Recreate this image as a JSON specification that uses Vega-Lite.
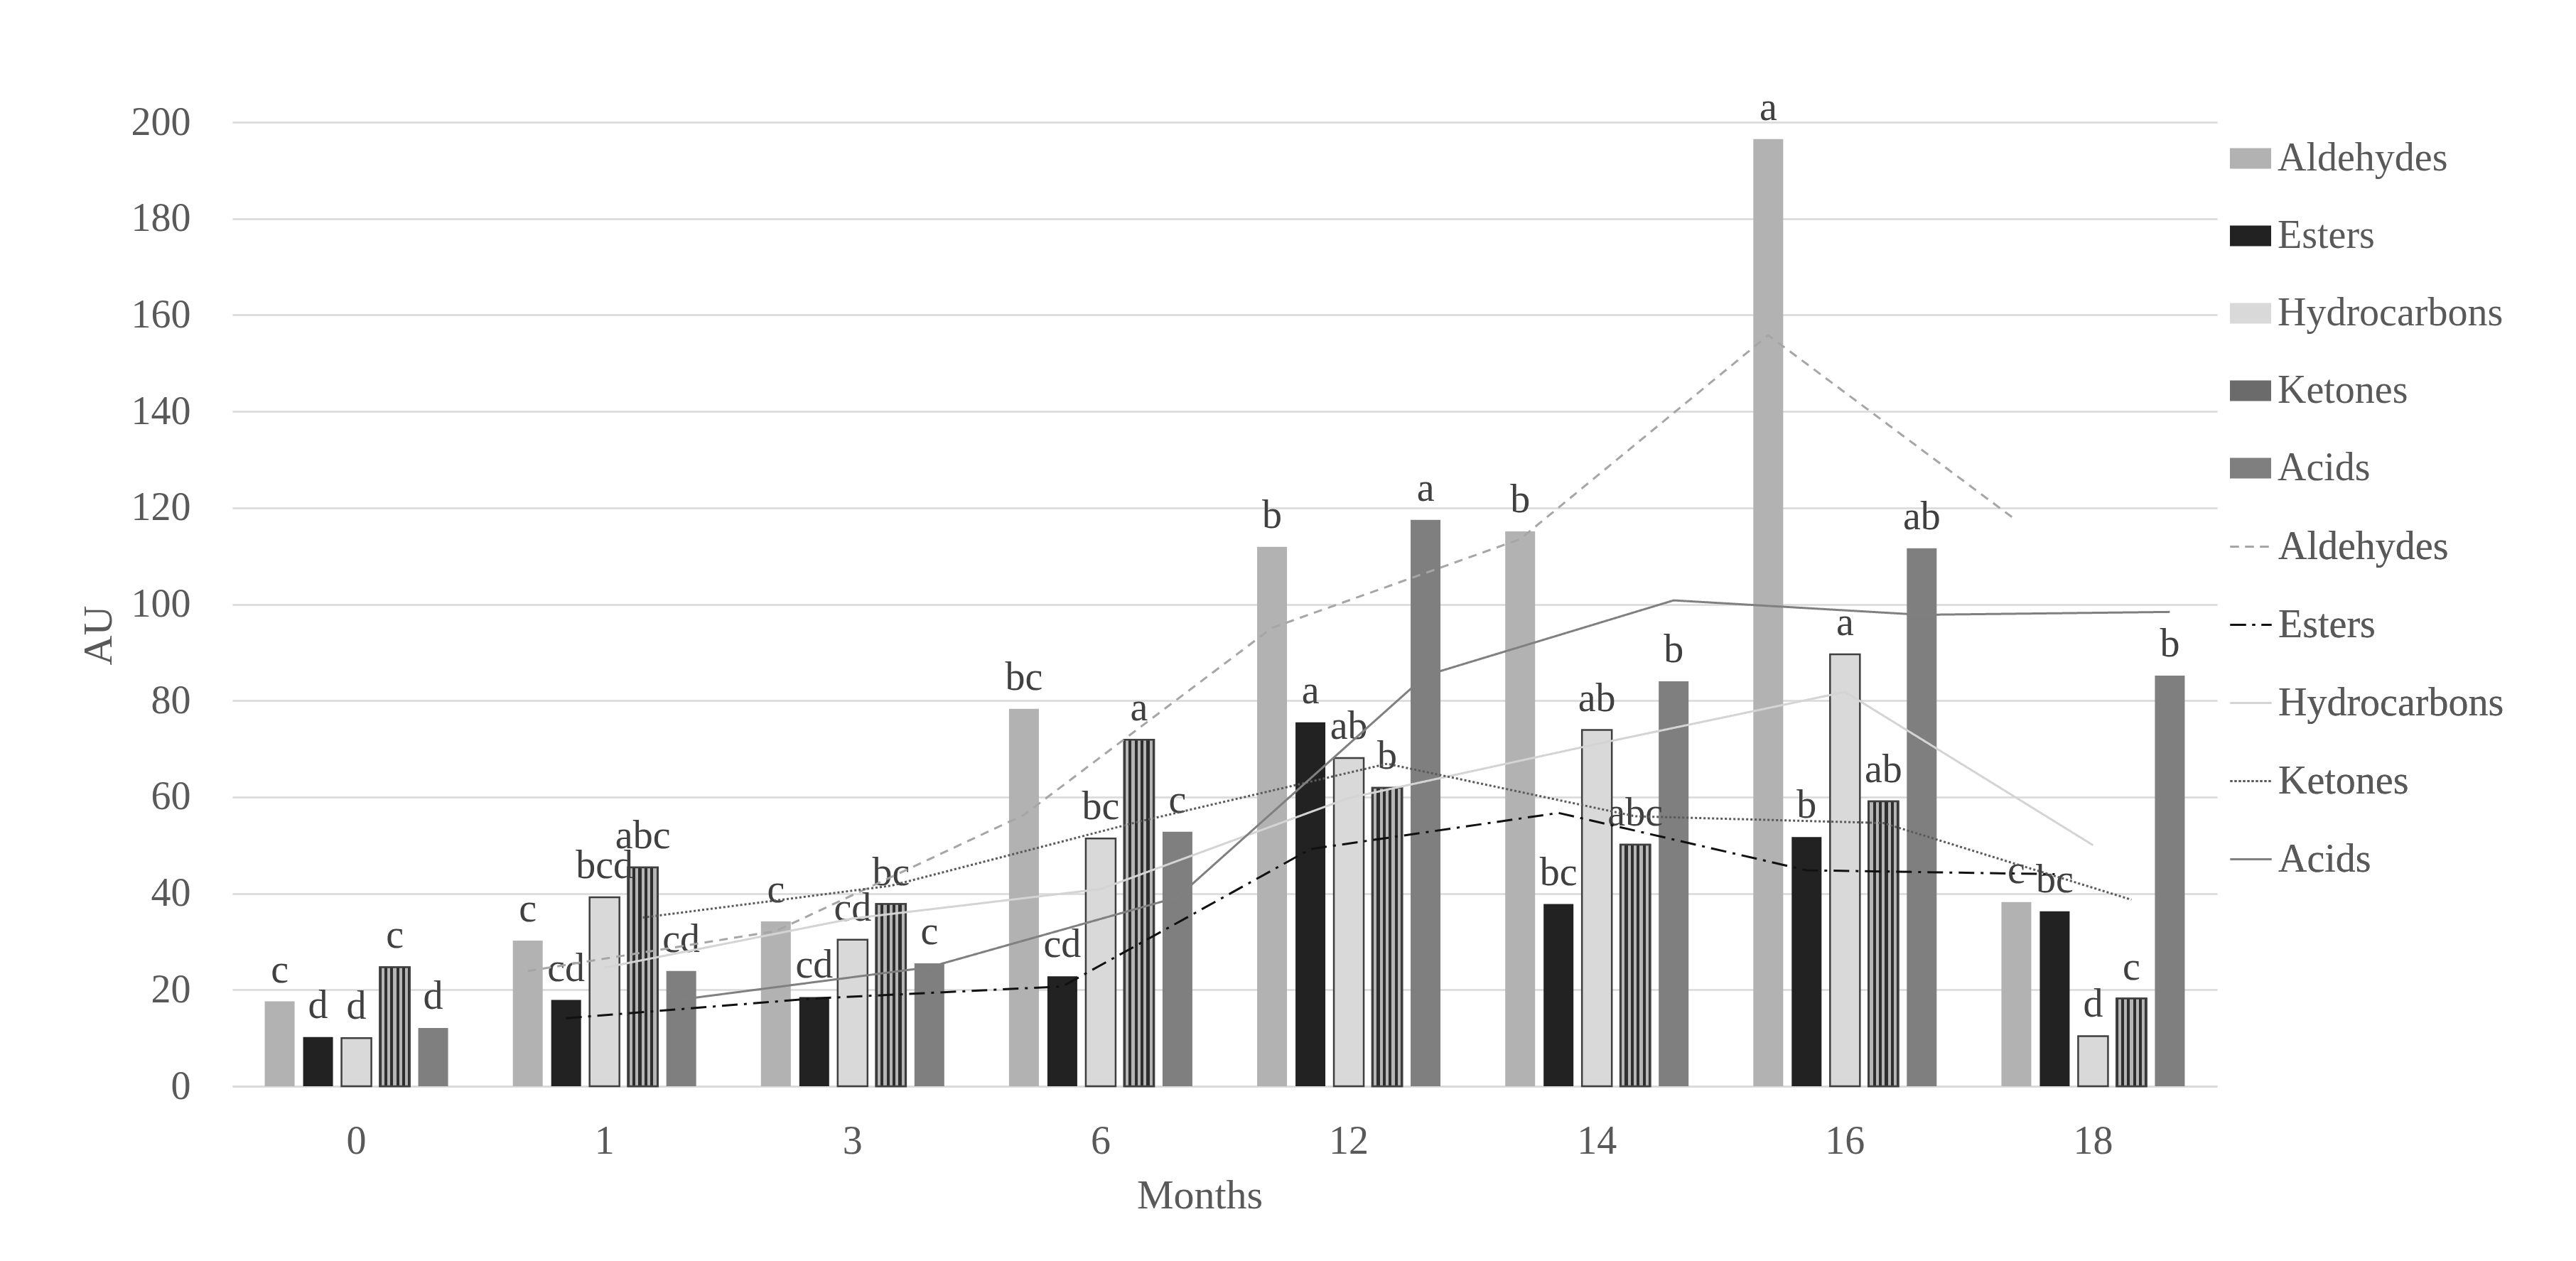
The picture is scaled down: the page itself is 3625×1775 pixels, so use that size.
{
  "$schema": "https://vega.github.io/schema/vega-lite/v6.json",
  "width": 2793,
  "height": 1357,
  "autosize": {"type": "none"},
  "padding": {"left": 327, "top": 172, "right": 505, "bottom": 246},
  "background": "white",
  "config": {
    "font": "Liberation Serif",
    "view": {"stroke": null},
    "axis": {"labelFont": "Liberation Serif", "titleFont": "Liberation Serif"},
    "legend": {"labelFont": "Liberation Serif"}
  },
  "datasets": {
    "bars": [
      {"month": 0, "compound": "Aldehydes", "value": 17.6, "letter": "c"},
      {"month": 0, "compound": "Esters", "value": 10.2, "letter": "d"},
      {"month": 0, "compound": "Hydrocarbons", "value": 10.0, "letter": "d"},
      {"month": 0, "compound": "Ketones", "value": 24.7, "letter": "c"},
      {"month": 0, "compound": "Acids", "value": 12.1, "letter": "d"},
      {"month": 1, "compound": "Aldehydes", "value": 30.2, "letter": "c"},
      {"month": 1, "compound": "Esters", "value": 17.9, "letter": "cd"},
      {"month": 1, "compound": "Hydrocarbons", "value": 39.2, "letter": "bcd"},
      {"month": 1, "compound": "Ketones", "value": 45.4, "letter": "abc"},
      {"month": 1, "compound": "Acids", "value": 23.9, "letter": "cd"},
      {"month": 3, "compound": "Aldehydes", "value": 34.2, "letter": "c"},
      {"month": 3, "compound": "Esters", "value": 18.5, "letter": "cd"},
      {"month": 3, "compound": "Hydrocarbons", "value": 30.4, "letter": "cd"},
      {"month": 3, "compound": "Ketones", "value": 37.8, "letter": "bc"},
      {"month": 3, "compound": "Acids", "value": 25.5, "letter": "c"},
      {"month": 6, "compound": "Aldehydes", "value": 78.3, "letter": "bc"},
      {"month": 6, "compound": "Esters", "value": 22.8, "letter": "cd"},
      {"month": 6, "compound": "Hydrocarbons", "value": 51.4, "letter": "bc"},
      {"month": 6, "compound": "Ketones", "value": 71.9, "letter": "a"},
      {"month": 6, "compound": "Acids", "value": 52.8, "letter": "c"},
      {"month": 12, "compound": "Aldehydes", "value": 111.9, "letter": "b"},
      {"month": 12, "compound": "Esters", "value": 75.5, "letter": "a"},
      {"month": 12, "compound": "Hydrocarbons", "value": 68.1, "letter": "ab"},
      {"month": 12, "compound": "Ketones", "value": 61.9, "letter": "b"},
      {"month": 12, "compound": "Acids", "value": 117.5, "letter": "a"},
      {"month": 14, "compound": "Aldehydes", "value": 115.1, "letter": "b"},
      {"month": 14, "compound": "Esters", "value": 37.8, "letter": "bc"},
      {"month": 14, "compound": "Hydrocarbons", "value": 73.9, "letter": "ab"},
      {"month": 14, "compound": "Ketones", "value": 50.1, "letter": "abc"},
      {"month": 14, "compound": "Acids", "value": 84.0, "letter": "b"},
      {"month": 16, "compound": "Aldehydes", "value": 196.5, "letter": "a"},
      {"month": 16, "compound": "Esters", "value": 51.7, "letter": "b"},
      {"month": 16, "compound": "Hydrocarbons", "value": 89.6, "letter": "a"},
      {"month": 16, "compound": "Ketones", "value": 59.1, "letter": "ab"},
      {"month": 16, "compound": "Acids", "value": 111.6, "letter": "ab"},
      {"month": 18, "compound": "Aldehydes", "value": 38.2, "letter": "c"},
      {"month": 18, "compound": "Esters", "value": 36.3, "letter": "bc"},
      {"month": 18, "compound": "Hydrocarbons", "value": 10.4, "letter": "d"},
      {"month": 18, "compound": "Ketones", "value": 18.2, "letter": "c"},
      {"month": 18, "compound": "Acids", "value": 85.2, "letter": "b"}
    ],
    "trends": [
      {"month": 1, "trend": "Aldehydes", "value": 23.9},
      {"month": 3, "trend": "Aldehydes", "value": 32.2},
      {"month": 6, "trend": "Aldehydes", "value": 56.3},
      {"month": 12, "trend": "Aldehydes", "value": 95.1},
      {"month": 14, "trend": "Aldehydes", "value": 113.5},
      {"month": 16, "trend": "Aldehydes", "value": 155.8},
      {"month": 18, "trend": "Aldehydes", "value": 117.4},
      {"month": 1, "trend": "Esters", "value": 14.1},
      {"month": 3, "trend": "Esters", "value": 18.2},
      {"month": 6, "trend": "Esters", "value": 20.7},
      {"month": 12, "trend": "Esters", "value": 49.2},
      {"month": 14, "trend": "Esters", "value": 56.7},
      {"month": 16, "trend": "Esters", "value": 44.8},
      {"month": 18, "trend": "Esters", "value": 44.0},
      {"month": 1, "trend": "Hydrocarbons", "value": 24.6},
      {"month": 3, "trend": "Hydrocarbons", "value": 34.8},
      {"month": 6, "trend": "Hydrocarbons", "value": 40.9},
      {"month": 12, "trend": "Hydrocarbons", "value": 59.8},
      {"month": 14, "trend": "Hydrocarbons", "value": 71.0},
      {"month": 16, "trend": "Hydrocarbons", "value": 81.8},
      {"month": 18, "trend": "Hydrocarbons", "value": 50.0},
      {"month": 1, "trend": "Ketones", "value": 35.0},
      {"month": 3, "trend": "Ketones", "value": 41.6},
      {"month": 6, "trend": "Ketones", "value": 54.9},
      {"month": 12, "trend": "Ketones", "value": 66.9},
      {"month": 14, "trend": "Ketones", "value": 56.0},
      {"month": 16, "trend": "Ketones", "value": 54.6},
      {"month": 18, "trend": "Ketones", "value": 38.7},
      {"month": 1, "trend": "Acids", "value": 18.0},
      {"month": 3, "trend": "Acids", "value": 24.7},
      {"month": 6, "trend": "Acids", "value": 39.2},
      {"month": 12, "trend": "Acids", "value": 85.2},
      {"month": 14, "trend": "Acids", "value": 100.8},
      {"month": 16, "trend": "Acids", "value": 97.8},
      {"month": 18, "trend": "Acids", "value": 98.4}
    ]
  },
  "encoding": {
    "x": {
      "field": "month",
      "type": "ordinal",
      "scale": {"paddingInner": 0.261, "paddingOuter": 0.1305},
      "axis": {
        "title": "Months",
        "labelAngle": 0,
        "ticks": false,
        "domainColor": "#d9d9d9",
        "domainWidth": 2.5,
        "labelFontSize": 56,
        "labelColor": "#595959",
        "labelPadding": 50,
        "titleFontSize": 58,
        "titleFontWeight": "normal",
        "titleColor": "#595959",
        "titleX": 1361,
        "titleY": 171,
        "titleAlign": "center",
        "titleBaseline": "alphabetic"
      }
    },
    "y": {
      "field": "value",
      "type": "quantitative",
      "stack": null,
      "scale": {"domain": [0, 200], "nice": false},
      "axis": {
        "title": "AU",
        "values": [0, 20, 40, 60, 80, 100, 120, 140, 160, 180, 200],
        "domain": false,
        "ticks": false,
        "grid": true,
        "gridColor": "#d9d9d9",
        "gridWidth": 2.5,
        "labelFontSize": 56,
        "labelColor": "#595959",
        "labelPadding": 59,
        "titleFontSize": 58,
        "titleFontWeight": "normal",
        "titleColor": "#595959",
        "titleX": -188,
        "titleY": 722,
        "titleAlign": "center",
        "titleBaseline": "middle"
      }
    },
    "xOffset": {
      "field": "compound",
      "type": "nominal",
      "scale": {"domain": ["Aldehydes", "Esters", "Hydrocarbons", "Ketones", "Acids"], "paddingInner": 0.222, "paddingOuter": 0}
    }
  },
  "layer": [
    {
      "data": {"name": "bars"},
      "mark": {"type": "bar", "strokeWidth": 2.5},
      "encoding": {
        "fill": {
          "field": "compound",
          "type": "nominal",
          "scale": {
            "domain": ["Aldehydes", "Esters", "Hydrocarbons", "Ketones", "Acids"],
            "range": ["#b2b2b2", "#222222", "#d9d9d9", "#6b6b6b", "#7f7f7f"]
          },
          "legend": {
            "title": null,
            "orient": "right",
            "offset": -4,
            "padding": 21,
            "rowPadding": 51,
            "labelFontSize": 56,
            "labelColor": "#595959",
            "labelOffset": 8,
            "labelLimit": 0,
            "symbolType": "M-1,-0.5H1V0.5H-1Z",
            "symbolSize": 3364,
            "symbolOpacity": 1,
            "encode": {
              "symbols": {
                "update": {
                  "stroke": {"signal": "datum.value === 'Hydrocarbons' || datum.value === 'Ketones' ? '#3f3f3f' : 'transparent'"},
                  "strokeWidth": {"value": 3}
                }
              }
            }
          }
        },
        "stroke": {
          "condition": {"test": "datum.compound === 'Hydrocarbons' || datum.compound === 'Ketones'", "value": "#3f3f3f"},
          "value": null
        }
      }
    },
    {
      "data": {"name": "bars"},
      "transform": [{"filter": "datum.compound === 'Ketones'"}],
      "mark": {
        "type": "bar",
        "stroke": "#3f3f3f",
        "strokeWidth": 2.5,
        "fill": {
          "gradient": "linear",
          "x1": 0, "y1": 0, "x2": 1, "y2": 0,
          "stops": [
            {"offset": 0, "color": "#2e2e2e"},
            {"offset": 0.05, "color": "#2e2e2e"},
            {"offset": 0.05, "color": "#b5b5b5"},
            {"offset": 0.15, "color": "#b5b5b5"},
            {"offset": 0.15, "color": "#2e2e2e"},
            {"offset": 0.25, "color": "#2e2e2e"},
            {"offset": 0.25, "color": "#b5b5b5"},
            {"offset": 0.35, "color": "#b5b5b5"},
            {"offset": 0.35, "color": "#2e2e2e"},
            {"offset": 0.45, "color": "#2e2e2e"},
            {"offset": 0.45, "color": "#b5b5b5"},
            {"offset": 0.55, "color": "#b5b5b5"},
            {"offset": 0.55, "color": "#2e2e2e"},
            {"offset": 0.65, "color": "#2e2e2e"},
            {"offset": 0.65, "color": "#b5b5b5"},
            {"offset": 0.75, "color": "#b5b5b5"},
            {"offset": 0.75, "color": "#2e2e2e"},
            {"offset": 0.85, "color": "#2e2e2e"},
            {"offset": 0.85, "color": "#b5b5b5"},
            {"offset": 0.95, "color": "#b5b5b5"},
            {"offset": 0.95, "color": "#2e2e2e"},
            {"offset": 1, "color": "#2e2e2e"}
          ]
        }
      },
      "encoding": {}
    },
    {
      "data": {"name": "bars"},
      "mark": {"type": "text", "baseline": "alphabetic", "dy": -27, "fontSize": 56, "color": "#404040", "font": "Liberation Serif"},
      "encoding": {
        "text": {"field": "letter"}
      }
    },
    {
      "data": {"name": "trends"},
      "mark": {"type": "line", "strokeWidth": 3},
      "encoding": {
        "xOffset": {
          "field": "trend",
          "type": "nominal",
          "scale": {"domain": ["Aldehydes", "Esters", "Hydrocarbons", "Ketones", "Acids"], "paddingInner": 0.222, "paddingOuter": 0}
        },
        "stroke": {
          "field": "trend",
          "type": "nominal",
          "scale": {
            "domain": ["Aldehydes", "Esters", "Hydrocarbons", "Ketones", "Acids"],
            "range": ["#a6a6a6", "#111111", "#d4d4d4", "#5a5a5a", "#808080"]
          },
          "legend": {
            "title": null,
            "orient": "none",
            "legendX": 2810,
            "legendY": 567,
            "padding": 0,
            "rowPadding": 51,
            "labelFontSize": 56,
            "labelColor": "#595959",
            "labelOffset": 8,
            "labelLimit": 0,
            "symbolType": "stroke",
            "symbolSize": 3364,
            "symbolStrokeWidth": 3,
            "encode": {
              "symbols": {
                "update": {
                  "stroke": {"signal": "scale('stroke', datum.value)"}
                }
              }
            }
          }
        },
        "strokeDash": {
          "field": "trend",
          "type": "nominal",
          "scale": {
            "domain": ["Aldehydes", "Esters", "Hydrocarbons", "Ketones", "Acids"],
            "range": [[12, 9], [22, 9, 4, 9], [1, 0], [3, 3], [1, 0]]
          },
          "legend": {
            "title": null,
            "orient": "none",
            "legendX": 2810,
            "legendY": 567,
            "padding": 0,
            "rowPadding": 51,
            "labelFontSize": 56,
            "labelColor": "#595959",
            "labelOffset": 8,
            "labelLimit": 0,
            "symbolType": "stroke",
            "symbolSize": 3364,
            "symbolStrokeWidth": 3,
            "encode": {
              "symbols": {
                "update": {
                  "stroke": {"signal": "scale('stroke', datum.value)"}
                }
              }
            }
          }
        }
      }
    }
  ]
}
